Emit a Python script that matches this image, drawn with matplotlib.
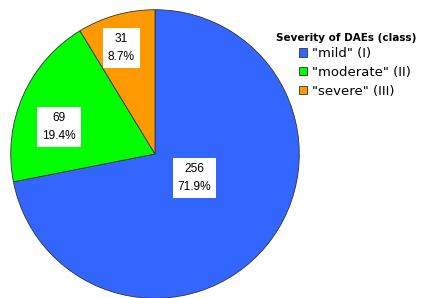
import numpy as np
import matplotlib.pyplot as plt
from matplotlib.patches import Patch

labels = ['"mild" (I)', '"moderate" (II)', '"severe" (III)']
counts = [256, 69, 31]
percents = [71.9, 19.4, 8.7]
colors = ['#3366ff', '#00ff00', '#ff9900']

# label placement (fraction of radius, degrees turned from wedge middle)
label_dist = [0.32, 0.69, 0.77]
label_turn = [8.4, 8.0, 2.0]

fig = plt.figure(figsize=(4.22, 2.98), dpi=100)
ax = fig.add_axes([10 / 422, -1 / 298, 290 / 422, 290 / 298])

wedges, _ = ax.pie(counts, colors=colors, startangle=90, counterclock=False,
                   wedgeprops=dict(edgecolor='#333333', linewidth=0.6))
ax.set_xlim(-1.005, 1.005)
ax.set_ylim(-1.005, 1.005)
ax.set_aspect('equal')

# value labels in white boxes
for w, n, p, d, t in zip(wedges, counts, percents, label_dist, label_turn):
    ang = np.deg2rad((w.theta1 + w.theta2) / 2 + t)
    ax.text(d * np.cos(ang), d * np.sin(ang), f"{n}\n{p}%",
            ha='center', va='center', fontsize=8.6, family='Liberation Sans',
            linespacing=1.65,
            bbox=dict(facecolor='white', edgecolor='none', pad=3.5))

fig.text(276 / 422, 1 - 38 / 298, "Severity of DAEs (class)", fontsize=7.5,
         fontweight='bold', va='center', ha='left')

handles = [Patch(facecolor=c, edgecolor='#333333', linewidth=0.6) for c in colors]
fig.legend(handles, labels, loc='upper left',
           bbox_to_anchor=(299 / 422, 1 - 47 / 298), frameon=False,
           fontsize=9.5, handlelength=0.6, handleheight=0.6,
           handletextpad=0.35, labelspacing=0.45, borderpad=0, borderaxespad=0)

fig.savefig('out.png', dpi=100)
